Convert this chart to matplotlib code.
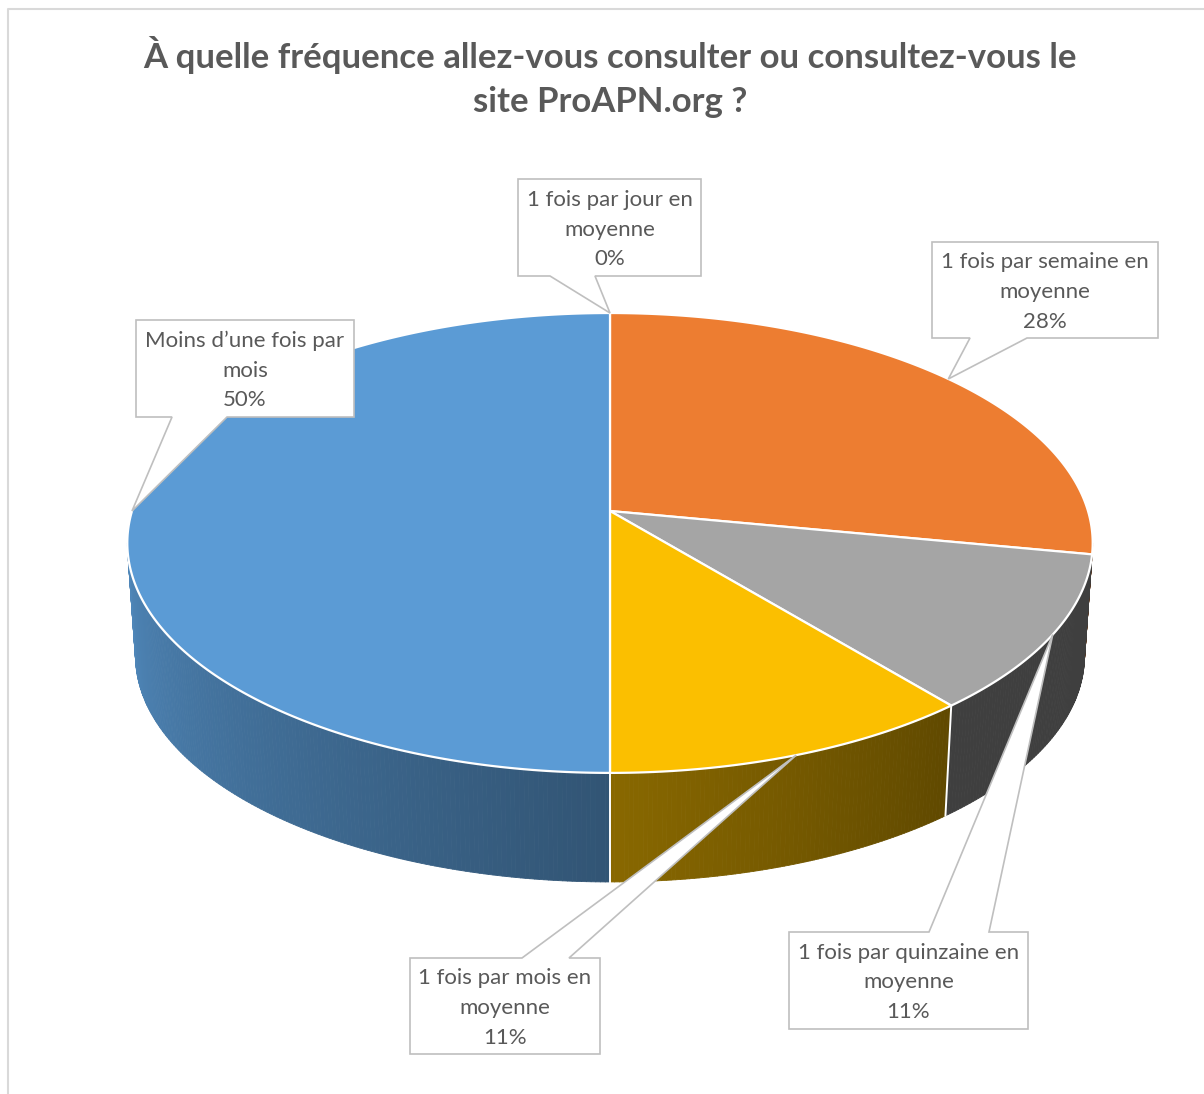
import numpy as np
import matplotlib.pyplot as plt
from matplotlib.patches import Polygon
from matplotlib.collections import PolyCollection

# %% Data

categories = ["1 fois par jour en\nmoyenne",
              "1 fois par semaine en\nmoyenne",
              "1 fois par quinzaine en\nmoyenne",
              "1 fois par mois en\nmoyenne",
              "Moins d\u2019une fois par\nmois"]
values = [0, 28, 11, 11, 50]
colours = ['#5B9BD5', '#ED7D31', '#A5A5A5', '#FBBF00', '#5B9BD5']

title_text = "À quelle fréquence allez-vous consulter ou consultez-vous le\nsite ProAPN.org ?"

# %% Geometry of the 3D pie (pixel space, y downwards)

cx, cy = 610, 511            # apex of the slices on the top face
rx, ry = 478, 225.5          # radii of the top face
persp = 0.139                # perspective strength
bot_k, bot_cy = 0.983, 624.5 # bottom ring scale and centre


def project(theta, bottom=False):
    s, c = np.sin(theta), np.cos(theta)
    k, y0 = (bot_k, bot_cy) if bottom else (1.0, cy)
    d = 1 + persp * c
    return cx + rx * k * s / d, y0 - ry * k * c / d


def shade(theta_deg):
    # darker towards the right, lighter towards the left
    return np.interp(theta_deg, [98, 140, 180, 262], [0.38, 0.38, 0.545, 0.87])


def darker(colour, f):
    rgb = np.array([int(colour[i:i + 2], 16) for i in (1, 3, 5)]) / 255
    return tuple(rgb * f)


# %% Figure

fig = plt.figure(figsize=(12.04, 10.94), dpi=100)
ax = fig.add_axes([0, 0, 1, 1])
ax.set_xlim(0, 1204)
ax.set_ylim(1094, 0)
ax.axis('off')

# chart area border
ax.plot([8, 8, 1204], [1094, 9, 9], color='#D9D9D9', lw=1.5, zorder=0)

fracs = np.array(values) / np.sum(values)
bounds = np.concatenate([[0], np.cumsum(fracs)]) * 360
sil = 90 + np.degrees(np.arcsin(persp))

# sides
quads, qcols = [], []
for i, col in enumerate(colours):
    a0, a1 = max(bounds[i], sil), min(bounds[i + 1], 360 - sil)
    if a1 <= a0:
        continue
    angs = np.linspace(a0, a1, int((a1 - a0) * 2) + 2)
    for ta, tb in zip(angs[:-1], angs[1:]):
        ra, rb = np.radians(ta), np.radians(tb)
        quads.append([project(ra), project(rb), project(rb, True), project(ra, True)])
        qcols.append(darker(col, shade((ta + tb) / 2)))
ax.add_collection(PolyCollection(quads, facecolors=qcols, edgecolors=qcols, lw=0.6, zorder=2))

for b in bounds[1:-1]:
    if sil + 5 < b < 360 - sil - 5:
        r = np.radians(b)
        (x0, y0), (x1, y1) = project(r), project(r, True)
        ax.plot([x0, x1], [y0, y1], color='white', lw=1.4, zorder=3)

# top face
for i, col in enumerate(colours):
    if values[i] == 0:
        continue
    angs = np.radians(np.linspace(bounds[i], bounds[i + 1], int(bounds[i + 1] - bounds[i]) * 2 + 2))
    pts = [(cx, cy)] + [project(t) for t in angs]
    ax.add_patch(Polygon(pts, closed=True, facecolor=col, edgecolor='white',
                         lw=1.6, joinstyle='round', zorder=4))

# %% Callouts

# box (left, top, right, bottom), tail base x positions, side of the tail
boxes = [(518, 179, 701, 276), (932, 242, 1158, 338), (789, 932, 1028, 1029),
         (410, 958, 600, 1054), (136, 320, 354, 417)]
tails = [(550, 595), (970, 1027), (929, 989), (522, 569), (172, 227)]
sides = ['bottom', 'bottom', 'top', 'top', 'bottom']

for i in range(len(values)):
    L, T, R, B = boxes[i]
    t1, t2 = tails[i]
    tip = project(np.radians((bounds[i] + bounds[i + 1]) / 2))
    if sides[i] == 'bottom':
        pts = [(L, T), (R, T), (R, B), (t2, B), tip, (t1, B), (L, B)]
    else:
        pts = [(L, T), (t1, T), tip, (t2, T), (R, T), (R, B), (L, B)]
    ax.add_patch(Polygon(pts, closed=True, facecolor='white', edgecolor='#BFBFBF',
                         lw=1.2, zorder=6))
    ax.text((L + R) / 2, (T + B) / 2 + 2, f"{categories[i]}\n{values[i]}%",
            ha='center', va='center', multialignment='center', family='Lato',
            fontsize=16, color='#595959', linespacing=1.6, zorder=7)

# %% Title

ax.text(610, 77, title_text, ha='center', va='center', multialignment='center',
        family='Lato', fontweight='bold', fontsize=25, color='#595959', linespacing=1.5)

plt.savefig('out.png', dpi=100)
